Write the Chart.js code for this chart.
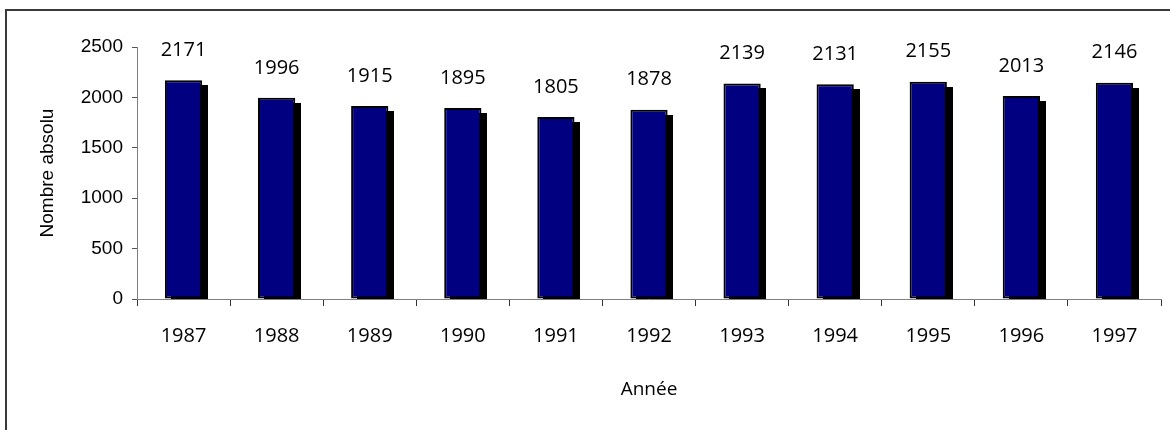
<!DOCTYPE html>
<html lang="fr">
<head>
<meta charset="utf-8">
<title>Nombre absolu par année</title>
<script src="https://cdn.jsdelivr.net/npm/chart.js@4/dist/chart.umd.min.js"></script>
<style>
  html, body { margin: 0; padding: 0; background: #fff; overflow: hidden; }
  #wrap { position: relative; width: 1170px; height: 430px; }
  #frame {
    position: absolute; left: 5px; top: 9px; width: 1300px; height: 600px;
    border-top: 2px solid #3a3a3a; border-left: 2px solid #3a3a3a;
    pointer-events: none;
  }
</style>
</head>
<body>
<div id="wrap">
  <canvas id="chart" width="1170" height="430"></canvas>
  <div id="frame"></div>
</div>
<script>
// --- données ---
const annees = ["1987", "1988", "1989", "1990", "1991", "1992", "1993", "1994", "1995", "1996", "1997"];
const valeurs = [2171, 1996, 1915, 1895, 1805, 1878, 2139, 2131, 2155, 2013, 2146];
const yTicks = [0, 500, 1000, 1500, 2000, 2500];

const comic = "'Open Sans', 'DejaVu Sans', sans-serif";
const arial = "'Liberation Sans', Arial, sans-serif";

// ombre noire décalée derrière chaque barre
const ombrePlugin = {
  id: "ombre",
  beforeDatasetsDraw(chart) {
    const ctx = chart.ctx;
    const area = chart.chartArea;
    const meta = chart.getDatasetMeta(0);
    ctx.save();
    ctx.beginPath();
    ctx.rect(area.left, area.top, area.right - area.left, area.bottom - area.top);
    ctx.clip();
    ctx.fillStyle = "#000";
    meta.data.forEach(bar => {
      const p = bar.getProps(["x", "y", "width", "base"], true);
      ctx.fillRect(Math.round(p.x - p.width / 2) + 6, Math.round(p.y) + 5, Math.round(p.width), p.base - p.y);
    });
    ctx.restore();
  }
};

// étiquettes de valeurs au-dessus des barres
const etiquettesPlugin = {
  id: "etiquettes",
  afterDatasetsDraw(chart) {
    const ctx = chart.ctx;
    const meta = chart.getDatasetMeta(0);
    ctx.save();
    ctx.font = "20px " + comic;
    ctx.fillStyle = "#000";
    ctx.textAlign = "center";
    ctx.textBaseline = "middle";
    meta.data.forEach((bar, i) => {
      ctx.fillText(String(valeurs[i]), bar.x, bar.y - 30);
    });
    ctx.restore();
  }
};

new Chart(document.getElementById("chart"), {
  type: "bar",
  data: {
    labels: annees,
    datasets: [{
      data: valeurs,
      backgroundColor: "#000080",
      borderColor: "#000",
      borderWidth: 2,
      borderSkipped: false,
      inflateAmount: 0,
      barPercentage: 0.4,
      categoryPercentage: 1.0
    }]
  },
  options: {
    responsive: false,
    animation: false,
    events: [],
    layout: { padding: { left: 0, right: 9, top: 47, bottom: 0 } },
    plugins: {
      legend: { display: false },
      tooltip: { enabled: false }
    },
    scales: {
      x: {
        offset: true,
        afterFit(scale) { scale.height = 131; },
        grid: {
          display: true,
          offset: true,
          drawOnChartArea: false,
          drawTicks: true,
          tickLength: 7,
          tickColor: "#333",
          color: "#333"
        },
        border: { display: true, color: "#808080", width: 1 },
        ticks: {
          color: "#000",
          font: { family: comic, size: 20 },
          padding: 18,
          maxRotation: 0
        },
        title: {
          display: true,
          text: "Année",
          color: "#000",
          font: { family: comic, size: 19 },
          padding: { top: 0, bottom: 29 }
        }
      },
      y: {
        min: 0,
        max: 2500,
        afterFit(scale) { scale.width = 137; },
        afterBuildTicks(scale) { scale.ticks = yTicks.map(v => ({ value: v })); },
        grid: {
          display: true,
          drawOnChartArea: false,
          drawTicks: true,
          tickLength: 5,
          tickColor: "#555",
          color: "#555"
        },
        border: { display: true, color: "#808080", width: 1 },
        ticks: {
          color: "#000",
          font: { family: arial, size: 19 },
          padding: 9,
          callback: v => String(v)
        },
        title: {
          display: true,
          text: "Nombre absolu",
          color: "#000",
          font: { family: arial, size: 19 },
          padding: { top: 36, bottom: 0 }
        }
      }
    }
  },
  plugins: [ombrePlugin, etiquettesPlugin]
});
</script>
</body>
</html>
